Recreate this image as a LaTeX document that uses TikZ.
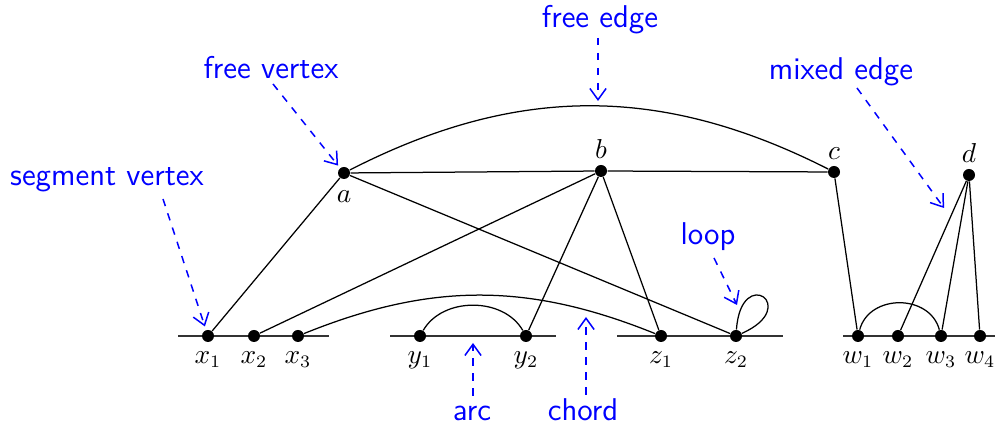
\documentclass[tikz,border=0pt]{standalone}
\usetikzlibrary{arrows.meta}
\begin{document}
\begin{tikzpicture}[x=0.4pt,y=0.4pt,
  vtx/.style={circle,fill=black,inner sep=0pt,minimum size=4.8pt},
  every label/.style={font=\fontsize{10.5}{12}\selectfont},
  edge/.style={line width=0.5pt},
  seg/.style={line width=0.6pt,black!80},
  note/.style={blue,dashed,line width=0.6pt,-{Straight Barb[length=4.5pt,width=6.5pt]}},
  notetext/.style={text=blue,font=\fontsize{12.6}{15}\selectfont\sffamily}]
\useasboundingbox (0,0) rectangle (1000,431);
% segments
\coordinate (s1l) at (178,95); \coordinate (s1r) at (329,95);
\coordinate (s2l) at (390,95); \coordinate (s2r) at (556,95);
\coordinate (s3l) at (617,95); \coordinate (s3r) at (783,95);
\coordinate (s4l) at (843,95); \coordinate (s4r) at (995,95);
\draw[seg] (s1l) -- (s1r);
\draw[seg] (s2l) -- (s2r);
\draw[seg] (s3l) -- (s3r);
\draw[seg] (s4l) -- (s4r);
% free vertices
\node[vtx,label={[label distance=1pt]below:$a$}] (a) at (344,258) {};
\node[vtx,label={[label distance=-1pt]above:$b$}] (b) at (601,260) {};
\node[vtx,label={[label distance=-1pt]above:$c$}] (c) at (834,259) {};
\node[vtx,label={[label distance=-1pt]above:$d$}] (d) at (969,256) {};
% segment vertices
\node[vtx,label=below:$x_1$] (x1) at (208,95) {};
\node[vtx,label=below:$x_2$] (x2) at (254,95) {};
\node[vtx,label=below:$x_3$] (x3) at (298,95) {};
\node[vtx,label=below:$y_1$] (y1) at (420,95) {};
\node[vtx,label=below:$y_2$] (y2) at (526,95) {};
\node[vtx,label=below:$z_1$] (z1) at (661,95) {};
\node[vtx,label=below:$z_2$] (z2) at (736,95) {};
\node[vtx,label=below:$w_1$] (w1) at (858,95) {};
\node[vtx,label=below:$w_2$] (w2) at (898,95) {};
\node[vtx,label=below:$w_3$] (w3) at (941,95) {};
\node[vtx,label=below:$w_4$] (w4) at (980,95) {};
% edges
\draw[edge] (a) -- (x1);
\draw[edge] (a) -- (b);
\draw[edge] (a) -- (z2);
\draw[edge] (b) -- (c);
\draw[edge] (b) -- (x2);
\draw[edge] (b) -- (y2);
\draw[edge] (b) -- (z1);
\draw[edge] (c) -- (w1);
\draw[edge] (d) -- (w2);
\draw[edge] (d) -- (w3);
\draw[edge] (d) -- (w4);
\draw[edge] (a) to[bend left=27] (c);
\draw[edge] (x3) to[bend left=22] (z1);
\draw[edge] (y1) to[out=60,in=120] (y2);
\draw[edge] (w1) to[out=75,in=105,looseness=1.2] (w3);
\draw[edge] (z2) .. controls +(86:72) and +(24:72) .. (z2);
% annotations
\node[notetext] (fe) at (600,411) {free edge};
\coordinate (feS) at (598,393); \coordinate (feT) at (598,330);
\draw[note] (feS) -- (feT);
\node[notetext] (fv) at (271,363) {free vertex};
\coordinate (fvS) at (273,347);
\draw[note,shorten >=1.2pt] (fvS) -- (a);
\node[notetext] (sv) at (107,251) {segment vertex};
\coordinate (svS) at (163,232);
\draw[note,shorten >=1.4pt] (svS) -- (x1);
\node[notetext] (me) at (841,359) {mixed edge};
\coordinate (meS) at (857,343); \coordinate (meT) at (944,223);
\draw[note] (meS) -- (meT);
\node[notetext] (lp) at (708,194) {loop};
\coordinate (lpS) at (714,173); \coordinate (lpT) at (737,126);
\draw[note] (lpS) -- (lpT);
\node[notetext] (ar) at (472,18) {arc};
\coordinate (arS) at (473,35); \coordinate (arT) at (473,88);
\draw[note] (arS) -- (arT);
\node[notetext] (ch) at (583,21) {chord};
\coordinate (chS) at (586,36); \coordinate (chT) at (586,114);
\draw[note] (chS) -- (chT);
\end{tikzpicture}
\end{document}
